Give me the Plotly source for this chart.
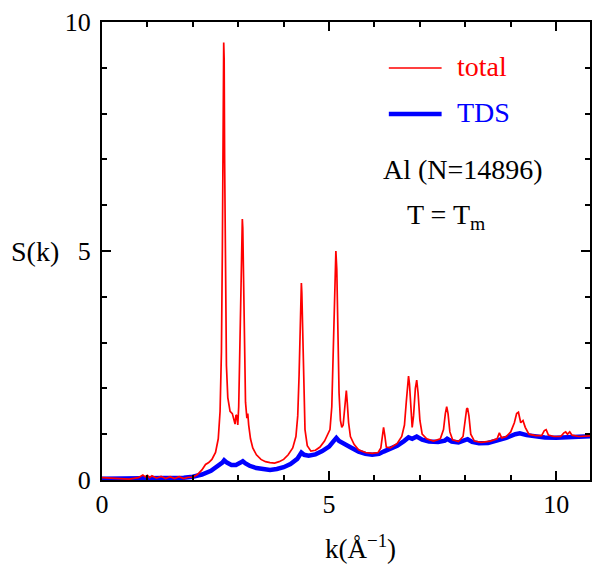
import plotly.graph_objects as go

# ---- data ----
k_total = [0, 0.3, 0.6, 0.8, 0.9, 0.95, 1.0, 1.05, 1.1, 1.2, 1.3, 1.4, 1.5, 1.6, 1.7, 1.8, 1.9,
           2.0, 2.1, 2.2, 2.28, 2.35, 2.42, 2.5, 2.56, 2.6, 2.63, 2.65, 2.67, 2.68, 2.69, 2.7,
           2.72, 2.74, 2.77, 2.82, 2.87, 2.9, 2.93, 2.95, 2.97, 2.99, 3.01, 3.03, 3.06, 3.08,
           3.09, 3.1, 3.12, 3.14, 3.16, 3.19, 3.21, 3.23, 3.27, 3.32, 3.4, 3.5, 3.6, 3.7, 3.8,
           3.9, 4.0, 4.1, 4.2, 4.27, 4.31, 4.34, 4.36, 4.38, 4.39, 4.4, 4.42, 4.44, 4.47, 4.52,
           4.6, 4.7, 4.8, 4.9, 4.97, 5.02, 5.06, 5.09, 5.11, 5.13, 5.15, 5.17, 5.19, 5.22, 5.25,
           5.28, 5.31, 5.34, 5.36, 5.38, 5.4, 5.43, 5.47, 5.55, 5.65, 5.8, 5.95, 6.08, 6.14,
           6.17, 6.2, 6.23, 6.26, 6.35, 6.5, 6.6, 6.66, 6.7, 6.73, 6.75, 6.77, 6.8, 6.83, 6.86,
           6.9, 6.93, 6.96, 7.0, 7.05, 7.15, 7.3, 7.45, 7.52, 7.56, 7.59, 7.62, 7.66, 7.72,
           7.85, 7.95, 8.0, 8.03, 8.05, 8.08, 8.12, 8.2, 8.35, 8.55, 8.7, 8.75, 8.8, 8.9, 9.0,
           9.08, 9.13, 9.17, 9.22, 9.27, 9.32, 9.4, 9.55, 9.68, 9.74, 9.78, 9.83, 9.95, 10.1,
           10.17, 10.21, 10.25, 10.3, 10.35, 10.5, 10.7, 11.0]
s_total = [0.05, 0.04, 0.02, 0.05, 0.11, 0.07, 0.1, 0.05, 0.09, 0.04, 0.08, 0.03, 0.07, 0.03,
           0.07, 0.03, 0.06, 0.06, 0.12, 0.22, 0.34, 0.38, 0.45, 0.6, 0.9, 1.5, 2.8, 5.0, 8.2,
           9.55, 9.2, 7.0, 4.0, 2.5, 1.8, 1.5, 1.45, 1.3, 1.22, 1.42, 1.4, 1.2, 1.6, 2.6, 4.5,
           5.5, 5.7, 5.5, 4.2, 2.5, 1.7, 1.35, 1.45, 1.2, 0.9, 0.7, 0.55, 0.45, 0.4, 0.38, 0.37,
           0.4, 0.45, 0.55, 0.7, 0.95, 1.4, 2.3, 3.3, 4.1, 4.3, 4.1, 3.0, 1.9, 1.1, 0.75, 0.63,
           0.65, 0.72, 0.85, 1.0, 1.1, 1.6, 2.8, 4.0, 4.8, 5.0, 4.6, 3.3, 1.9, 1.3, 1.15, 1.2,
           1.6, 1.9, 1.95, 1.7, 1.25, 0.95, 0.78, 0.66, 0.6, 0.58, 0.6, 0.7, 0.95, 1.15, 0.95,
           0.72, 0.7, 0.8, 0.95, 1.2, 1.7, 2.15, 2.27, 2.1, 1.5, 1.15, 1.4, 2.0, 2.18, 1.9, 1.3,
           1.0, 0.9, 0.85, 0.9, 1.1, 1.45, 1.6, 1.45, 1.05, 0.88, 0.84, 0.95, 1.3, 1.55, 1.57,
           1.4, 1.0, 0.85, 0.82, 0.85, 0.9, 1.03, 0.92, 0.95, 1.05, 1.25, 1.45, 1.48, 1.25, 1.3,
           1.15, 1.0, 0.97, 0.97, 1.08, 1.1, 0.98, 0.95, 0.95, 1.03, 1.05, 1.0, 1.05, 0.98, 0.95,
           0.97, 0.98]

k_tds = [0, 0.5, 1.0, 1.5, 1.8, 2.0, 2.2, 2.4, 2.55, 2.65, 2.69, 2.75, 2.85, 2.95, 3.05, 3.1,
         3.16, 3.25, 3.4, 3.55, 3.7, 3.85, 4.0, 4.15, 4.3, 4.39, 4.45, 4.55, 4.7, 4.85, 5.0, 5.1,
         5.16, 5.22, 5.3, 5.4, 5.5, 5.65, 5.8, 5.95, 6.1, 6.2, 6.35, 6.5, 6.65, 6.75, 6.83, 6.93,
         7.05, 7.2, 7.4, 7.55, 7.6, 7.7, 7.85, 8.0, 8.05, 8.15, 8.3, 8.5, 8.7, 8.9, 9.1, 9.2,
         9.35, 9.5, 9.75, 10.0, 10.25, 10.5, 10.8, 11.0]
s_tds = [0.03, 0.03, 0.03, 0.04, 0.05, 0.07, 0.12, 0.2, 0.3, 0.38, 0.43, 0.38, 0.33, 0.33,
         0.38, 0.41, 0.36, 0.31, 0.26, 0.23, 0.22, 0.24, 0.28, 0.35, 0.46, 0.6, 0.55, 0.53,
         0.56, 0.63, 0.73, 0.85, 0.92, 0.85, 0.8, 0.76, 0.7, 0.62, 0.57, 0.55, 0.57, 0.62, 0.68,
         0.75, 0.85, 0.93, 0.9, 0.95, 0.88, 0.84, 0.83, 0.86, 0.9, 0.84, 0.82, 0.86, 0.89, 0.83,
         0.8, 0.81, 0.86, 0.92, 1.0, 1.02, 0.98, 0.96, 0.93, 0.92, 0.93, 0.94, 0.96, 0.97]

x_ticks = [0, 5, 10]
y_ticks = [0, 5, 10]
series_names = ["total", "TDS"]
label_line1 = "Al (N=14896)"
label_line2 = "T = T<sub>m</sub>"

FONT = "Liberation Serif, Times New Roman, serif"
RED = "#ff0000"
BLUE = "#0000ff"

# The page body has an 8px margin, so the figure starts at (8, 8) in the window.
OFF = 8
W, H = 600 - 2 * OFF, 576 - 2 * OFF
L, T = 102 - OFF, 22 - OFF
B = OFF + H - 480
R = 0
PW, PH = W - L - R, H - T - B
X_PER_UNIT = (558 - 102) / 10.0
X_MAX = PW / X_PER_UNIT


def px_to_paper(px, py):
    """window pixel -> paper fraction of plot area"""
    fx = px - OFF
    fy = py - OFF
    return (fx - L) / PW, (T + PH - fy) / PH


fig = go.Figure()
fig.add_trace(go.Scatter(x=k_tds, y=s_tds, mode="lines", name=series_names[1],
                         line=dict(color=BLUE, width=4.5), showlegend=False))
fig.add_trace(go.Scatter(x=k_total, y=s_total, mode="lines", name=series_names[0],
                         line=dict(color=RED, width=1.7), showlegend=False))

axis_common = dict(
    showgrid=False, zeroline=False, showline=True, linecolor="black", linewidth=2,
    mirror="ticks", ticks="inside", ticklen=9, tickwidth=2, tickcolor="black",
    tickfont=dict(family=FONT, size=26, color="black"),
    minor=dict(ticks="inside", ticklen=5, tickwidth=1.5, tickcolor="black", dtick=1),
)
fig.update_xaxes(range=[0, X_MAX], tickvals=x_ticks, **axis_common)
fig.update_yaxes(range=[0, 10], tickvals=y_ticks, ticklabelstandoff=4, **axis_common)

# legend (drawn manually to match the reference layout)
x0, y0 = px_to_paper(390, 68)
x1, _ = px_to_paper(443, 68)
_, yb = px_to_paper(390, 114)
fig.add_shape(type="line", xref="paper", yref="paper", x0=x0, x1=x1, y0=y0, y1=y0,
              line=dict(color=RED, width=1.7))
fig.add_shape(type="line", xref="paper", yref="paper", x0=x0, x1=x1, y0=yb, y1=yb,
              line=dict(color=BLUE, width=4.5))

ann = []


def add_text(px, py, text, color, xanchor="left", size=28):
    x, y = px_to_paper(px, py)
    ann.append(dict(x=x, y=y, xref="paper", yref="paper", text=text, showarrow=False,
                    xanchor=xanchor, yanchor="middle",
                    font=dict(family=FONT, size=size, color=color)))


add_text(456, 67, series_names[0], RED)
add_text(456, 112, series_names[1], BLUE)
add_text(382, 169, label_line1, "black")
add_text(406, 216, label_line2, "black")
add_text(35, 252, "S(k)", "black", xanchor="center")
add_text(362, 547, "k(Å<sup>−1</sup>)", "black", xanchor="center", size=27)

fig.update_layout(
    width=W, height=H,
    margin=dict(l=L, r=R, t=T, b=B, pad=0),
    paper_bgcolor="white", plot_bgcolor="white",
    showlegend=False,
    annotations=ann,
)

fig.write_html("out.html")
